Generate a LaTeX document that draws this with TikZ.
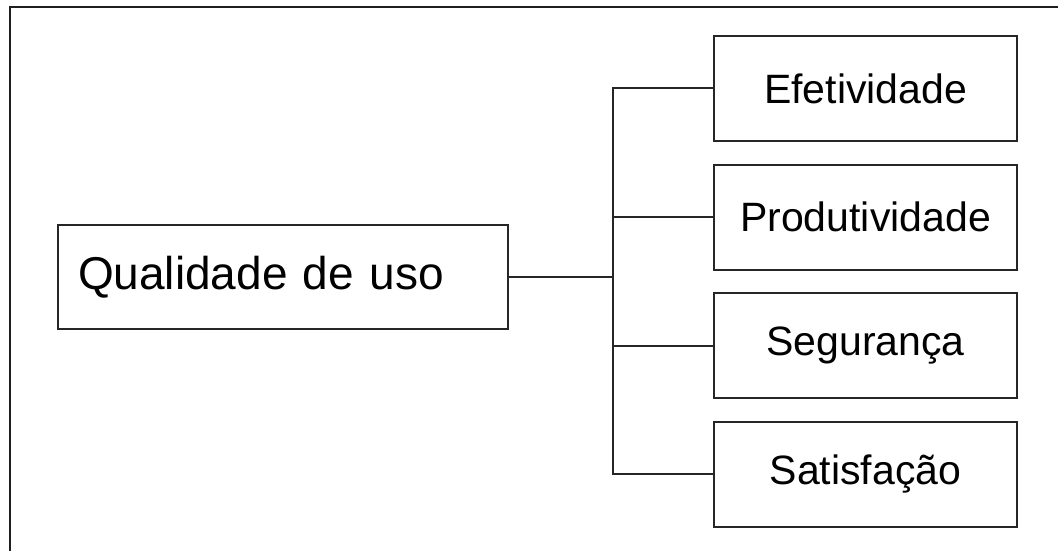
\documentclass[tikz,border=0pt]{standalone}
\usepackage{fontspec}
\setmainfont{Liberation Sans}
\begin{document}
\begin{tikzpicture}[x=1pt,y=-1pt,
  line/.style={draw=black!85, line width=2pt},
  subbox/.style={line, rectangle, minimum width=303pt, minimum height=105pt, inner sep=0pt, font=\fontsize{41}{45}\selectfont},
  mainbox/.style={line, rectangle, text width=410pt, inner xsep=20pt, inner ysep=0pt, align=left, minimum height=104pt, font=\fontsize{46}{50}\selectfont}]
\useasboundingbox (0,0) rectangle (1058,551);
\fill[white] (0,0) rectangle (1058,551);
% outer frame (top and left edges)
\draw[line width=2.6pt, black!88] (1058,7) -- (10,7) -- (10,551);
\node[mainbox] (q) at (283,277) {Qualidade de uso};
\node[subbox] (b1) at (865.5,88.5) {Efetividade};
\node[subbox] (b2) at (865.5,217) {Produtividade};
\node[subbox] (b3) at (865.5,345.5) {Segurança};
\node[subbox] (b4) at (865.5,474) {Satisfação};
\coordinate (t1) at (613,88.5);
\coordinate (t4) at (613,474);
\draw[line] (b1.west) -- (t1) -- (t4) -- (b4.west);
\draw[line] (b2.west) -- (b2.west -| t1);
\draw[line] (b3.west) -- (b3.west -| t1);
\draw[line] (q.east) -- (q.east -| t1);
\end{tikzpicture}
\end{document}
